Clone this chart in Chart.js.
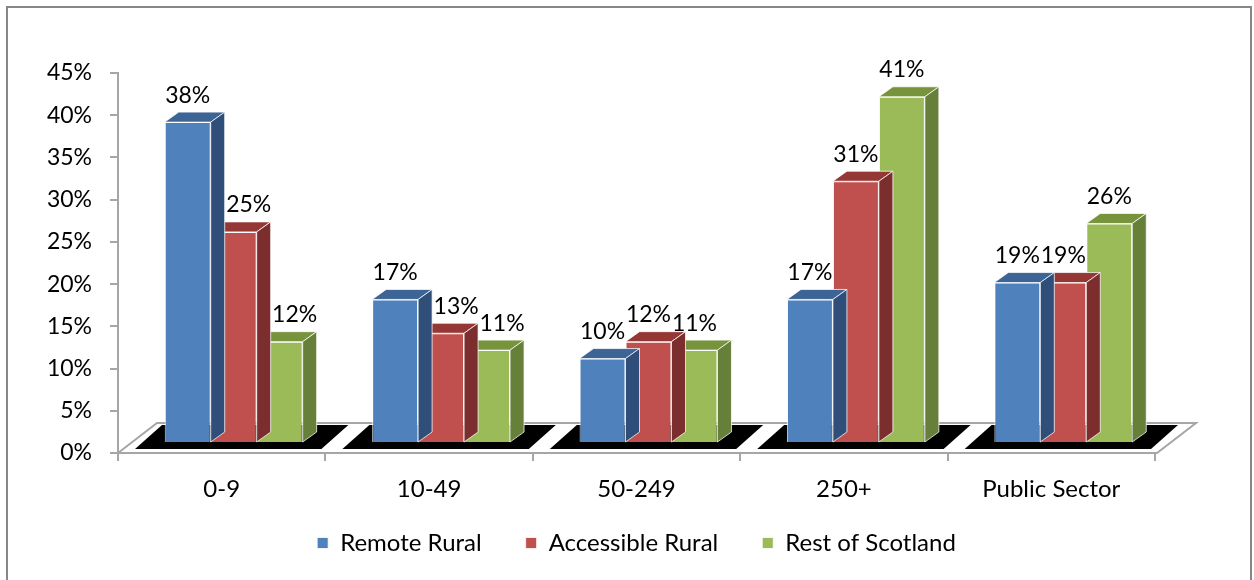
<!DOCTYPE html>
<html>
<head>
<meta charset="utf-8">
<script src="https://cdn.jsdelivr.net/npm/chart.js@4.4.1/dist/chart.umd.min.js"></script>
<style>
  html, body { margin: 0; padding: 0; background: #fff; }
  #wrap { position: relative; width: 1254px; height: 580px; }
</style>
</head>
<body>
<div id="wrap"><canvas id="chart"></canvas></div>
<script>
// Chart data
const categories = ['0-9', '10-49', '50-249', '250+', 'Public Sector'];
const remoteRural = [38, 17, 10, 17, 19];
const accessibleRural = [25, 13, 12, 31, 19];
const restOfScotland = [12, 11, 11, 41, 26];
const seriesNames = ['Remote Rural', 'Accessible Rural', 'Rest of Scotland'];

// Colours: front, top, side
const FACE = {
  front: ['#4F81BD', '#C0504D', '#9BBB59'],
  top:   ['#3C6494', '#953735', '#77933C'],
  side:  ['#2F4F7A', '#7B2E2D', '#66803A']
};

const FONT = 'Lato, "Liberation Sans", sans-serif';
const AXIS_GREY = '#a6a6a6';

// depth of each bar, and shift of bars from the front axis plane
const DEPTH = { dx: 14, dy: 10 };
const SHIFT = { dx: 12, dy: -10 };

// Outer frame, floor, 3D faces and value labels
const framePlugin = {
  id: 'frame',
  afterLayout(chart) {
    // legend row sits a little higher than the layout puts it
    const lg = chart.legend;
    lg.top = 487;
    lg.bottom = 580;
    lg.height = lg.bottom - lg.top;
  },
  beforeDraw(chart) {
    const ctx = chart.ctx;
    ctx.save();
    ctx.strokeStyle = '#878787';
    ctx.lineWidth = 2;
    ctx.strokeRect(7, 7, 1244, 590);
    ctx.restore();
  },
  beforeDatasetsDraw(chart) {
    const ctx = chart.ctx;
    const area = chart.chartArea;
    const n = categories.length;
    const step = (area.right - area.left) / n;

    ctx.save();
    // black floor tiles, one per category
    ctx.fillStyle = '#000';
    for (let i = 0; i < n; i++) {
      const b0 = area.left + step * i;
      const b1 = b0 + step;
      const yB = area.bottom - 4, yT = area.bottom - 28;
      ctx.beginPath();
      ctx.moveTo(b0 + 17, yB);
      ctx.lineTo(b0 + 17 + 27, yT);
      ctx.lineTo(b1 - 4 + 27, yT);
      ctx.lineTo(b1 - 4, yB);
      ctx.closePath();
      ctx.fill();
    }
    // grey floor outline
    ctx.strokeStyle = AXIS_GREY;
    ctx.lineWidth = 2;
    ctx.beginPath();
    ctx.moveTo(area.left, area.bottom);
    ctx.lineTo(area.left + 39, area.bottom - 30);
    ctx.lineTo(area.right + 41, area.bottom - 30);
    ctx.lineTo(area.right + 2, area.bottom);
    ctx.lineTo(area.left, area.bottom);
    ctx.stroke();
    ctx.restore();

    // move bars to mid depth of the floor
    ctx.save();
    ctx.translate(SHIFT.dx, SHIFT.dy);
  },
  afterDatasetDraw(chart, args) {
    const ctx = chart.ctx;
    const i = args.index;
    args.meta.data.forEach(bar => {
      const { x, y, base, width } = bar.getProps(['x', 'y', 'base', 'width'], true);
      const L = x - width / 2, R = x + width / 2;
      ctx.strokeStyle = 'rgba(255,255,255,0.75)';
      ctx.lineWidth = 1;
      // top face
      ctx.fillStyle = FACE.top[i];
      ctx.beginPath();
      ctx.moveTo(L, y);
      ctx.lineTo(L + DEPTH.dx, y - DEPTH.dy);
      ctx.lineTo(R + DEPTH.dx, y - DEPTH.dy);
      ctx.lineTo(R, y);
      ctx.closePath();
      ctx.fill();
      ctx.stroke();
      // side face
      ctx.fillStyle = FACE.side[i];
      ctx.beginPath();
      ctx.moveTo(R, y);
      ctx.lineTo(R + DEPTH.dx, y - DEPTH.dy);
      ctx.lineTo(R + DEPTH.dx, base - DEPTH.dy);
      ctx.lineTo(R, base);
      ctx.closePath();
      ctx.fill();
      ctx.stroke();
    });
  },
  afterDatasetsDraw(chart) {
    const ctx = chart.ctx;
    const all = chart.data.datasets;
    // value labels above each bar; nudged right when the bar to the left is taller
    ctx.fillStyle = '#000';
    ctx.font = '23px ' + FONT;
    ctx.textAlign = 'center';
    ctx.textBaseline = 'middle';
    all.forEach((ds, i) => {
      chart.getDatasetMeta(i).data.forEach((bar, j) => {
        const prev = i > 0 ? all[i - 1].data[j] : -Infinity;
        const nudge = prev - ds.data[j] >= 2 ? 15 : 0;
        ctx.fillText(ds.data[j] + '%', bar.x + nudge, bar.y - 27);
      });
    });
    ctx.restore();
  }
};

const datasets = [remoteRural, accessibleRural, restOfScotland].map((data, i) => ({
  label: seriesNames[i],
  data,
  backgroundColor: FACE.front[i],
  borderColor: 'rgba(255,255,255,0.8)',
  borderWidth: 1,
  barPercentage: 1,
  categoryPercentage: 0.665,
  clip: false
}));

new Chart(document.getElementById('chart'), {
  type: 'bar',
  data: { labels: categories, datasets },
  plugins: [framePlugin],
  options: {
    responsive: true,
    maintainAspectRatio: false,
    animation: false,
    layout: { padding: { top: 73, right: 99, bottom: 0, left: 0 } },
    plugins: {
      tooltip: { enabled: false },
      legend: {
        position: 'bottom',
        fullSize: false,
        labels: {
          boxWidth: 11,
          boxHeight: 11,
          padding: 44,
          color: '#000',
          font: { size: 24, family: FONT }
        }
      }
    },
    scales: {
      x: {
        grid: { drawOnChartArea: false, drawTicks: true, tickLength: 8, color: AXIS_GREY, lineWidth: 2 },
        border: { display: true, color: AXIS_GREY, width: 2 },
        ticks: { color: '#000', font: { size: 24, family: FONT }, padding: 14 },
        afterFit(scale) { scale.height = 49; }
      },
      y: {
        min: 0,
        max: 45,
        grid: { drawOnChartArea: false, drawTicks: true, tickLength: 8, color: AXIS_GREY, lineWidth: 2 },
        border: { display: true, color: AXIS_GREY, width: 2 },
        ticks: {
          stepSize: 5,
          color: '#000',
          padding: 18,
          font: { size: 23, family: FONT },
          callback: v => v + '%'
        },
        afterFit(scale) { scale.width = 118; }
      }
    }
  }
});
</script>
</body>
</html>
